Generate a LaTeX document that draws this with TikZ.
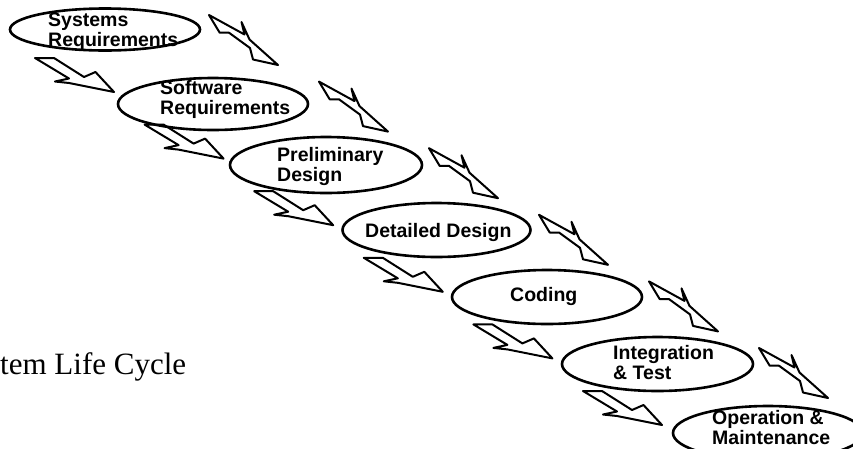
\documentclass[tikz,border=0pt]{standalone}
\usepackage{fontspec}
\setsansfont{Liberation Sans}
\setmainfont{Liberation Serif}
\usetikzlibrary{shapes.geometric}
\tikzset{
  phase/.style={draw, ellipse, line width=2.6pt, inner sep=0pt},
  lbl/.style={font=\sffamily\bfseries\fontsize{19.5}{20}\selectfont, align=left, inner sep=0pt, anchor=west},
  blk/.style={draw, line width=2pt, line join=round},
  larrow/.pic={\path[blk] (0,0) -- (19,0) -- (49,19) -- (60.5,14) -- (79,34) -- (34,25) -- (20,23.5) -- (34,20.5) -- cycle;},
  uarrow/.pic={\path[blk] (0,0) -- (35.5,19.5) -- (32.5,7) -- (40.5,24.5) -- (69,50) -- (44,44.5) -- (41,33) -- (20,17.7) -- (10.7,17.7) -- cycle;}
}
\begin{document}
\begin{tikzpicture}[x=1pt,y=-1pt]
\useasboundingbox (0,0) rectangle (853,448);
\clip (0,0) rectangle (853,448);
% phases
\node[phase, minimum width=190pt, minimum height=42pt] (e1) at (105,29.5) {};
\node[phase, minimum width=190pt, minimum height=52pt] (e2) at (213,104) {};
\node[phase, minimum width=192pt, minimum height=56pt] (e3) at (326,165) {};
\node[phase, minimum width=188pt, minimum height=54pt] (e4) at (436.5,230) {};
\node[phase, minimum width=190pt, minimum height=54pt] (e5) at (547,297) {};
\node[phase, minimum width=191pt, minimum height=54pt] (e6) at (657.5,364) {};
\node[phase, minimum width=190pt, minimum height=54pt] (e7) at (768,433) {};
% labels
\node[lbl] (t1) at (48,32) {Systems\\Requirements};
\node[lbl] (t2) at (160,99) {Software\\Requirements};
\node[lbl] (t3) at (277,166) {Preliminary\\Design};
\node[lbl] (t4) at (365,232) {Detailed Design};
\node[lbl] (t5) at (510,296.5) {Coding};
\node[lbl] (t6) at (613,363) {Integration\\\& Test};
\node[lbl] (t7) at (712,428) {Operation \&\\Maintenance};
% block arrows
\foreach \i in {0,...,5} {
  \pic at ({35+109.6*\i},{58+66.6*\i}) {larrow};
  \pic at ({209+110*\i},{15+66.6*\i}) {uarrow};
}
% caption fragment
\node[font=\fontsize{31}{36}\selectfont, anchor=base west, inner sep=0pt] (cap) at (0,374) {tem Life Cycle};
\end{tikzpicture}
\end{document}
